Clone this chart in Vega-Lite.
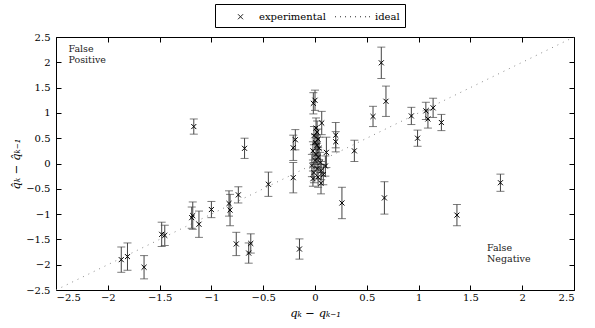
{
  "$schema": "https://vega.github.io/schema/vega-lite/v6.json",
  "width": 518,
  "height": 253,
  "autosize": {"type": "none"},
  "padding": {"left": 56, "top": 37, "right": 21, "bottom": 38},
  "background": "white",
  "config": {
    "view": {"stroke": "#000", "strokeWidth": 1},
    "font": "DejaVu Serif",
    "axis": {
      "grid": false,
      "domain": false,
      "tickSize": 5,
      "offset": -5,
      "tickColor": "#000",
      "labelFont": "DejaVu Serif",
      "labelFontSize": 10,
      "labelColor": "#000",
      "titleFont": "DejaVu Serif",
      "titleFontSize": 11.5,
      "titleFontStyle": "italic",
      "titleFontWeight": "normal",
      "titleColor": "#000"
    }
  },
  "datasets": {
    "exp": [
      {"dq": -1.87, "dqhat": -1.90, "err": 0.25},
      {"dq": -1.81, "dqhat": -1.84, "err": 0.27},
      {"dq": -1.65, "dqhat": -2.05, "err": 0.23},
      {"dq": -1.48, "dqhat": -1.40, "err": 0.24},
      {"dq": -1.45, "dqhat": -1.42, "err": 0.20},
      {"dq": -1.19, "dqhat": -1.07, "err": 0.21},
      {"dq": -1.18, "dqhat": -1.03, "err": 0.27},
      {"dq": -1.12, "dqhat": -1.20, "err": 0.26},
      {"dq": -1.00, "dqhat": -0.91, "err": 0.16},
      {"dq": -0.83, "dqhat": -0.79, "err": 0.25},
      {"dq": -0.82, "dqhat": -0.92, "err": 0.31},
      {"dq": -0.74, "dqhat": -0.62, "err": 0.16},
      {"dq": -0.76, "dqhat": -1.59, "err": 0.23},
      {"dq": -0.62, "dqhat": -1.58, "err": 0.19},
      {"dq": -0.64, "dqhat": -1.77, "err": 0.20},
      {"dq": -0.45, "dqhat": -0.41, "err": 0.24},
      {"dq": -0.21, "dqhat": -0.28, "err": 0.30},
      {"dq": -0.15, "dqhat": -1.69, "err": 0.20},
      {"dq": -1.17, "dqhat": 0.73, "err": 0.15},
      {"dq": -0.68, "dqhat": 0.30, "err": 0.20},
      {"dq": -0.21, "dqhat": 0.31, "err": 0.25},
      {"dq": -0.19, "dqhat": 0.47, "err": 0.20},
      {"dq": 0.26, "dqhat": -0.78, "err": 0.31},
      {"dq": 0.67, "dqhat": -0.68, "err": 0.32},
      {"dq": 1.37, "dqhat": -1.02, "err": 0.21},
      {"dq": 1.79, "dqhat": -0.38, "err": 0.17},
      {"dq": 0.64, "dqhat": 1.99, "err": 0.31},
      {"dq": 0.685, "dqhat": 1.23, "err": 0.30},
      {"dq": 0.56, "dqhat": 0.93, "err": 0.20},
      {"dq": 0.38, "dqhat": 0.25, "err": 0.21},
      {"dq": 0.93, "dqhat": 0.94, "err": 0.17},
      {"dq": 0.99, "dqhat": 0.50, "err": 0.16},
      {"dq": 1.07, "dqhat": 1.04, "err": 0.17},
      {"dq": 1.09, "dqhat": 0.88, "err": 0.18},
      {"dq": 1.14, "dqhat": 1.10, "err": 0.19},
      {"dq": 1.22, "dqhat": 0.81, "err": 0.16},
      {"dq": 0.20, "dqhat": 0.56, "err": 0.25},
      {"dq": 0.20, "dqhat": 0.43, "err": 0.20},
      {"dq": 0.11, "dqhat": 0.22, "err": 0.30},
      {"dq": 0.065, "dqhat": 0.80, "err": 0.23},
      {"dq": -0.016, "dqhat": 1.19, "err": 0.21},
      {"dq": 0.0, "dqhat": 1.25, "err": 0.20},
      {"dq": 0.058, "dqhat": -0.39, "err": 0.21},
      {"dq": 0.01, "dqhat": 0.70, "err": 0.20},
      {"dq": 0.02, "dqhat": 0.62, "err": 0.22},
      {"dq": -0.01, "dqhat": 0.55, "err": 0.18},
      {"dq": 0.03, "dqhat": 0.48, "err": 0.20},
      {"dq": 0.0, "dqhat": 0.42, "err": 0.15},
      {"dq": 0.02, "dqhat": 0.36, "err": 0.20},
      {"dq": 0.04, "dqhat": 0.30, "err": 0.22},
      {"dq": -0.02, "dqhat": 0.25, "err": 0.18},
      {"dq": 0.01, "dqhat": 0.18, "err": 0.20},
      {"dq": 0.03, "dqhat": 0.12, "err": 0.20},
      {"dq": 0.0, "dqhat": 0.06, "err": 0.15},
      {"dq": 0.05, "dqhat": 0.02, "err": 0.20},
      {"dq": -0.03, "dqhat": -0.04, "err": 0.22},
      {"dq": 0.02, "dqhat": -0.10, "err": 0.20},
      {"dq": 0.06, "dqhat": -0.14, "err": 0.18},
      {"dq": -0.01, "dqhat": -0.18, "err": 0.20},
      {"dq": 0.08, "dqhat": -0.22, "err": 0.20},
      {"dq": 0.03, "dqhat": -0.27, "err": 0.20},
      {"dq": -0.02, "dqhat": -0.30, "err": 0.15},
      {"dq": 0.10, "dqhat": -0.05, "err": 0.20}
    ],
    "ideal": [{"dq": -2.5, "dqhat": -2.5}, {"dq": 2.5, "dqhat": 2.5}],
    "notes": [
      {"dq": -2.38, "dqhat": 2.27, "label": "False"},
      {"dq": -2.38, "dqhat": 2.05, "label": "Positive"},
      {"dq": 1.66, "dqhat": -1.67, "label": "False"},
      {"dq": 1.66, "dqhat": -1.89, "label": "Negative"}
    ]
  },
  "resolve": {"axis": {"x": "independent", "y": "independent"}, "scale": {"shape": "independent"}},
  "layer": [
    {
      "data": {"name": "ideal"},
      "mark": {"type": "line", "color": "#8a8a8a", "strokeWidth": 1, "strokeDash": [1, 5]},
      "encoding": {
        "x": {"field": "dq", "type": "quantitative", "scale": {"domain": [-2.5, 2.5], "nice": false, "zero": false},
          "axis": {"orient": "bottom", "values": [-2.5, -2, -1.5, -1, -0.5, 0, 0.5, 1, 1.5, 2, 2.5], "format": "~g", "labelPadding": 2, "title": "qₖ − qₖ₋₁", "titlePadding": 5}},
        "y": {"field": "dqhat", "type": "quantitative", "scale": {"domain": [-2.5, 2.5], "nice": false, "zero": false},
          "axis": {"orient": "left", "values": [-2.5, -2, -1.5, -1, -0.5, 0, 0.5, 1, 1.5, 2, 2.5], "format": "~g", "labelPadding": 6, "title": "q̂ₖ − q̂ₖ₋₁", "titlePadding": 4}}
      }
    },
    {
      "data": {"name": "ideal"},
      "mark": {"type": "point", "opacity": 0},
      "encoding": {
        "x": {"field": "dq", "type": "quantitative", "scale": {"domain": [-2.5, 2.5], "nice": false, "zero": false},
          "axis": {"orient": "top", "values": [-2.5, -2, -1.5, -1, -0.5, 0, 0.5, 1, 1.5, 2, 2.5], "labels": false, "title": null}},
        "y": {"field": "dqhat", "type": "quantitative", "scale": {"domain": [-2.5, 2.5], "nice": false, "zero": false},
          "axis": {"orient": "right", "values": [-2.5, -2, -1.5, -1, -0.5, 0, 0.5, 1, 1.5, 2, 2.5], "labels": false, "title": null}},
        "shape": {
          "datum": "experimental",
          "scale": {
            "domain": ["experimental", "ideal"],
            "range": [
              "M1.5,-0.36L2.22,0.36M1.5,0.36L2.22,-0.36",
              "M-1.21,0L-1.07,0M-0.5,0L-0.36,0M0.22,0L0.36,0M0.93,0L1.07,0M1.65,0L1.79,0M2.36,0L2.5,0M3.08,0L3.22,0M3.65,0L3.79,0"
            ]
          },
          "legend": {
            "orient": "none",
            "legendX": 159,
            "legendY": -33,
            "direction": "horizontal",
            "title": null,
            "strokeColor": "#000",
            "fillColor": "white",
            "padding": 5,
            "symbolSize": 196,
            "symbolOpacity": 1,
            "symbolStrokeWidth": 1,
            "symbolStrokeColor": "#222",
            "symbolFillColor": "transparent",
            "labelFont": "DejaVu Serif",
            "labelFontSize": 10,
            "labelColor": "#000",
            "labelOffset": 24,
            "columnPadding": 7
          }
        }
      }
    },
    {
      "mark": {"type": "rule", "color": "#7a7a7a", "strokeWidth": 1.5},
      "encoding": {"x": {"datum": 0, "type": "quantitative", "axis": null}}
    },
    {
      "mark": {"type": "rule", "color": "#7a7a7a", "strokeWidth": 1.5},
      "encoding": {"y": {"datum": 0, "type": "quantitative", "axis": null}}
    },
    {
      "data": {"name": "exp"},
      "transform": [
        {"calculate": "datum.dqhat - datum.err", "as": "lo"},
        {"calculate": "datum.dqhat + datum.err", "as": "hi"}
      ],
      "layer": [
        {
          "mark": {"type": "rule", "color": "#444", "strokeWidth": 1},
          "encoding": {
            "x": {"field": "dq", "type": "quantitative", "axis": null},
            "y": {"field": "lo", "type": "quantitative", "axis": null},
            "y2": {"field": "hi"}
          }
        },
        {
          "mark": {"type": "tick", "orient": "horizontal", "color": "#444", "size": 8, "thickness": 1},
          "encoding": {
            "x": {"field": "dq", "type": "quantitative", "axis": null},
            "y": {"field": "lo", "type": "quantitative", "axis": null}
          }
        },
        {
          "mark": {"type": "tick", "orient": "horizontal", "color": "#444", "size": 8, "thickness": 1},
          "encoding": {
            "x": {"field": "dq", "type": "quantitative", "axis": null},
            "y": {"field": "hi", "type": "quantitative", "axis": null}
          }
        },
        {
          "mark": {"type": "point", "filled": false, "color": "#000", "strokeWidth": 1, "size": 196, "opacity": 1},
          "encoding": {
            "x": {"field": "dq", "type": "quantitative", "axis": null},
            "y": {"field": "dqhat", "type": "quantitative", "axis": null},
            "shape": {
              "datum": "experimental",
              "scale": {"domain": ["experimental"], "range": ["M-0.36,-0.36L0.36,0.36M-0.36,0.36L0.36,-0.36"]},
              "legend": null
            }
          }
        }
      ]
    },
    {
      "data": {"name": "notes"},
      "mark": {"type": "text", "align": "left", "baseline": "middle", "font": "DejaVu Serif", "fontSize": 9.5, "color": "#222"},
      "encoding": {
        "x": {"field": "dq", "type": "quantitative", "axis": null},
        "y": {"field": "dqhat", "type": "quantitative", "axis": null},
        "text": {"field": "label"}
      }
    }
  ]
}
